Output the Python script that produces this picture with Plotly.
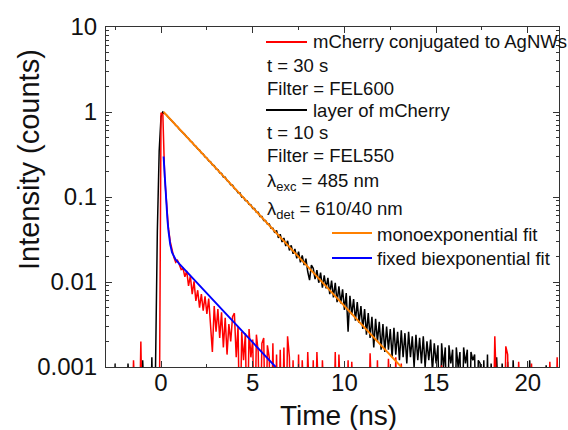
import numpy as np
import plotly.graph_objects as go

# ---------------- data ----------------
# time grid of the measured decays (ns)
T_START = -3.0
DT = 0.1

# normalized intensity in units of 1e-3 (1000 = peak); 0 = no counts recorded
black_layer_mI = [
    0, 0, 0, 0, 0, 1.1, 0, 0, 0, 0,
    0, 0, 1.1, 0, 0, 0, 0, 0, 0, 0,
    1.2, 0, 0, 0, 0, 1.3, 0,
    1.0, 40, 350, 880, 1000, 965,
    921, 866, 829, 778, 745, 698, 671, 628, 603, 565,
    542, 507, 488, 455, 439, 409, 395, 367, 356, 329,
    320, 296, 288, 265, 259, 238, 234, 214, 210, 192,
    190, 172, 171, 156, 151, 139, 138, 126, 122, 112,
    112, 100, 99, 91, 90, 82, 81, 73, 73, 66,
    66, 59, 59, 53, 53, 48, 48, 43, 43, 38,
    40.5, 33.0, 36.5, 29.5, 33.0, 26.5, 30.5, 23.5, 27.0, 21.5,
    24.5, 19.0, 22.8, 17.0, 20.5, 15.8, 18.8, 13.2, 10.5, 15.8,
    14.5, 10.8, 13.8, 9.8, 12.9, 8.6, 12.0, 8.4, 11.2, 7.2,
    10.4, 6.6, 9.8, 5.8, 8.9, 5.6, 8.2, 4.7, 7.4, 2.6,
    6.9, 4.1, 6.3, 3.5, 5.8, 3.3, 5.2, 2.8, 4.8, 2.4,
    4.3, 2.2, 3.9, 1.7, 3.7, 2.0, 3.4, 1.6, 3.2, 1.5,
    3.0, 1.6, 2.8, 1.3, 2.9, 1.4, 2.6, 1.2, 2.7, 1.3,
    2.5, 1.1, 2.6, 1.3, 2.3, 1.0, 2.4, 1.2, 2.2, 1.1,
    2.3, 1.0, 2.0, 1.2, 2.1, 0.9, 1.9, 1.1, 1.8, 0,
    1.9, 1.0, 1.7, 0, 1.8, 1.1, 1.6, 0, 1.7, 1.0,
    1.5, 0, 1.7, 1.1, 1.6, 0, 1.5, 1.2, 1.4, 0,
    1.2, 1.1, 0, 1.2, 0, 1.4, 0, 1.1, 0, 0,
    1.3, 0, 0, 1.1, 0, 0, 1.15, 0, 0, 1.2,
    0, 0, 0, 0, 0, 0, 0, 0, 1.2, 0,
    0, 0, 0, 0, 0, 0, 0, 1.05, 0, 0,
    0, 0, 0, 0, 0,
]

red_agnw_mI = [
    0, 0, 0, 0, 0, 0, 0, 0, 0, 0,
    0, 0, 0, 0, 0, 1.2, 0, 0, 0, 2.0,
    0, 0, 0, 0, 0, 0, 0, 0, 0, 0,
    980, 930, 170, 74, 44, 30, 24, 19.5, 17, 18,
    16, 14, 14.5, 11.5, 13.5, 9.0, 11.8, 7.2, 10.2, 6.0,
    8.0, 5.0, 7.2, 4.6, 6.8, 4.2, 6.4, 3.4, 1.5, 5.2,
    2.6, 4.8, 2.2, 4.4, 1.7, 3.8, 1.4, 3.2, 2.0, 3.9,
    4.3, 1.3, 3.0, 0, 2.6, 1.2, 2.5, 0, 2.8, 1.3,
    2.1, 0, 2.4, 1.5, 0, 1.9, 2.2, 0, 1.8, 1.3,
    0, 1.9, 0, 1.4, 0, 1.6, 0, 1.7, 0, 2.3,
    1.3, 0, 1.2, 0, 0, 1.4, 0, 1.2, 0, 0,
    1.5, 0, 0, 1.2, 0, 1.5, 0, 0, 1.2, 0,
    0, 0, 0, 0, 0, 1.5, 0, 1.4, 0, 0,
    0, 0, 1.2, 0, 1.15, 0, 0, 0, 0, 0,
    0, 0, 0, 0, 1.45, 0, 0, 0, 1.2, 0,
    0, 0, 0, 0, 1.25, 0, 0, 0, 1.3, 0,
    0, 1.1, 0, 0, 0, 0, 0, 0, 0, 0,
    0, 0, 0, 0, 0, 0, 0, 0, 0, 0,
    0, 0, 0, 1.05, 0, 0, 0, 0, 0, 0,
    0, 0, 0, 0, 0, 0, 0, 0, 0, 0,
    0, 0, 0, 0, 0, 0, 0, 0, 0, 0,
    0, 0, 2.3, 0, 0, 0, 0, 0, 1.75, 1.4,
    0, 0, 0, 0, 0, 1.15, 0, 0, 0, 0,
    0, 0, 1.1, 0, 0, 0, 0, 0, 0, 0,
    0, 0, 1.15, 0, 0, 0, 1.3, 0,
]

# fit curves (time in ns, normalized intensity)
mono_fit_t = [0.14, 13.1]
mono_fit_I = [1.0, 0.001]
biexp_fit_t = [0.14, 0.18, 0.22, 0.26, 0.30, 0.35, 0.40, 0.50, 0.60, 0.70, 0.80, 1.0, 6.25]
biexp_fit_I = [0.30, 0.207, 0.145, 0.104, 0.076, 0.054, 0.041, 0.0277, 0.0223, 0.0198, 0.0183, 0.0163, 0.001]

x_tick_vals = [0, 5, 10, 15, 20]
y_tick_vals = [0.001, 0.01, 0.1, 1, 10]
y_tick_text = ["0.001", "0.01", "0.1", "1", "10"]

legend_rows_red = ["mCherry conjugated to AgNWs", "t = 30 s", "Filter = FEL600"]
legend_rows_black = ["layer of mCherry", "t = 10 s", "Filter = FEL550",
                     "λ<sub>exc</sub> = 485 nm", "λ<sub>det</sub> = 610/40 nm"]
legend_fit_mono = "monoexponential fit"
legend_fit_biexp = "fixed biexponential fit"

# ---------------- build ----------------
FLOOR = 1e-4  # zero-count channels are drawn below the 0.001 axis floor


def to_intensity(vals):
    arr = np.asarray(vals, dtype=float) / 1000.0
    return np.where(arr > 0, arr, FLOOR)


t_black = T_START + DT * np.arange(len(black_layer_mI))
t_red = T_START + DT * np.arange(len(red_agnw_mI))

FONT = "Liberation Sans, Arial, sans-serif"
W, H = 568, 430
L, R, T, B = 106, 559, 27, 367  # plot area in pixels


def px(x):
    return (x - L) / (R - L)


def py(y):
    return (B - y) / (B - T)


fig = go.Figure()
fig.add_trace(go.Scatter(x=t_black, y=to_intensity(black_layer_mI), mode="lines",
                         line=dict(color="#000000", width=1.5), showlegend=False))
fig.add_trace(go.Scatter(x=t_red, y=to_intensity(red_agnw_mI), mode="lines",
                         line=dict(color="#ff0000", width=1.5), showlegend=False))
fig.add_trace(go.Scatter(x=mono_fit_t, y=mono_fit_I, mode="lines",
                         line=dict(color="#ff8000", width=1.9), showlegend=False))
fig.add_trace(go.Scatter(x=biexp_fit_t, y=biexp_fit_I, mode="lines",
                         line=dict(color="#0000ff", width=1.9), showlegend=False))

annotations = []
shapes = []


def text_at(x, y, s, size=18.5, anchor="left", **kw):
    annotations.append(dict(x=px(x), y=py(y), xref="paper", yref="paper", text=s,
                            showarrow=False, xanchor=anchor, yanchor="middle",
                            font=dict(family=FONT, size=size, color="#111111"), **kw))


def sample(x0, x1, y, color):
    shapes.append(dict(type="line", xref="paper", yref="paper", x0=px(x0), x1=px(x1),
                       y0=py(y), y1=py(y), line=dict(color=color, width=1.8)))


# legend block
sample(266, 307, 42, "#ff0000")
text_at(311, 42, legend_rows_red[0])
text_at(265, 65, legend_rows_red[1])
text_at(265, 88, legend_rows_red[2])
sample(266, 307, 110, "#000000")
text_at(311, 110, legend_rows_black[0])
text_at(265, 132, legend_rows_black[1])
text_at(265, 155, legend_rows_black[2])
text_at(265, 182, legend_rows_black[3])
text_at(265, 210, legend_rows_black[4])
sample(332, 372, 233, "#ff8000")
text_at(375, 234, legend_fit_mono)
sample(332, 372, 258, "#0000ff")
text_at(375, 258, legend_fit_biexp)

# axis titles
text_at(338, 415, "Time (ns)", size=28, anchor="center")
annotations.append(dict(x=px(29), y=py(160), xref="paper", yref="paper",
                        text="Intensity (counts)", showarrow=False, textangle=-90,
                        xanchor="center", yanchor="middle",
                        font=dict(family=FONT, size=29, color="#111111")))

minor_y = [m * 10.0 ** e for e in range(-3, 1) for m in range(2, 10)]

fig.update_layout(
    width=W, height=H,
    margin=dict(l=L, r=W - R, t=T, b=H - B, pad=0),
    paper_bgcolor="white", plot_bgcolor="white",
    font=dict(family=FONT, size=24, color="#111111"),
    showlegend=False,
    annotations=annotations,
    shapes=shapes,
    xaxis=dict(range=[-3, 21.7], tickvals=x_tick_vals, ticks="inside", ticklen=6,
               tickwidth=1, tickcolor="#333333", showline=True, linecolor="#333333",
               linewidth=1, mirror="allticks", showgrid=False, zeroline=False,
               tickfont=dict(size=24), ticklabelstandoff=-6,
               minor=dict(ticks="inside", ticklen=3, dtick=2.5, tick0=0,
                          tickcolor="#333333", showgrid=False)),
    yaxis=dict(type="log", range=[-3, 1], tickvals=y_tick_vals, ticktext=y_tick_text,
               ticks="inside", ticklen=6, tickwidth=1, tickcolor="#333333",
               showline=True, linecolor="#333333", linewidth=1, mirror="allticks",
               showgrid=False, zeroline=False, tickfont=dict(size=24),
               ticklabelstandoff=3,
               minor=dict(ticks="inside", ticklen=3, tickvals=minor_y,
                          tickcolor="#333333", showgrid=False)),
)

fig.write_html("out.html", config={"displayModeBar": False},
               post_script="document.body.style.margin='0px';")
